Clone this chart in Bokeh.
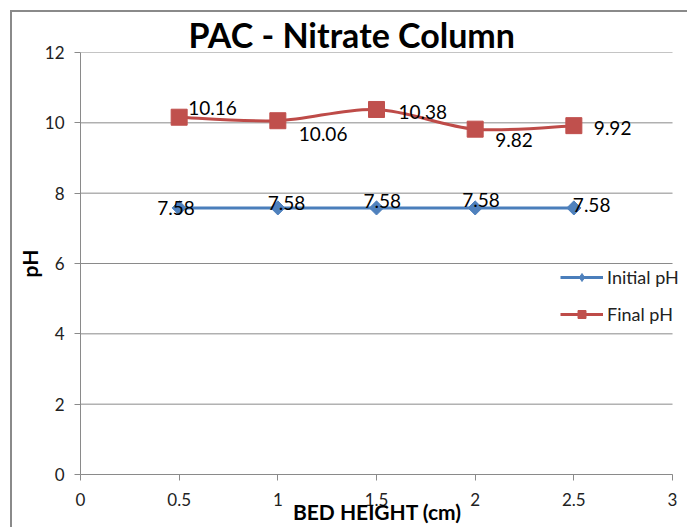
from bokeh.plotting import figure
from bokeh.models import (ColumnDataSource, Legend, LegendItem, FixedTicker,
                          Range1d)
from bokeh.core.properties import value
from bokeh.embed import file_html
from bokeh.resources import INLINE

# Data
bed_height = [0.5, 1.0, 1.5, 2.0, 2.5]
initial_ph = [7.58, 7.58, 7.58, 7.58, 7.58]
final_ph = [10.16, 10.06, 10.38, 9.82, 9.92]
x_ticks = [0, 0.5, 1, 1.5, 2, 2.5, 3]
y_ticks = [0, 2, 4, 6, 8, 10, 12]

# Label placement (pixel offsets from each point)
initial_dx = [-22, -10, -13, -13, -1]
initial_dy = [0, -5, -7, -8, -3]
final_dx = [9, 21, 22, 20, 20]
final_dy = [-9, 13, 3, 11, 2]

BLUE = "#4A7EBB"
BLUE_M = "#4F81BD"
RED = "#BE4B48"
RED_M = "#C0504D"
GRID = "#8a8a8a"
FONT = "Lato"
NAN = float("nan")

X_MIN, X_MAX = 0, 3
# the frame runs on past the last tick so the legend has room at the right
X_VIEW_END = 3.086

p = figure(width=677, height=517, output_backend="svg", toolbar_location=None,
           x_range=Range1d(X_MIN, X_VIEW_END), y_range=Range1d(0, 12),
           min_border_left=68, min_border_right=0, min_border_top=40,
           min_border_bottom=55)
p.margin = (10, 0, 0, 10)
p.styles = {"border-top": f"2px solid {GRID}", "border-left": f"2px solid {GRID}"}
p.outline_line_color = None
p.background_fill_color = "white"
p.border_fill_color = "white"

# Title
p.title.text = "PAC - Nitrate Column"
p.title.text_font = FONT
p.title.text_font_size = "34px"
p.title.text_font_style = "bold"
p.title.text_color = "black"
p.title.align = "left"
p.title.offset = 108
p.title.standoff = -5

# Axes
for ax in (p.xaxis[0], p.yaxis[0]):
    ax.axis_line_color = GRID
    ax.axis_line_width = 1
    ax.major_tick_line_color = GRID
    ax.major_tick_in = 0
    ax.major_tick_out = 6
    ax.minor_tick_line_color = None
    ax.major_label_text_font = FONT
    ax.major_label_text_font_size = "17px"
    ax.major_label_text_color = "#222222"
    ax.axis_label_text_font = FONT
    ax.axis_label_text_font_style = "bold"
    ax.axis_label_text_font_size = "21px"
    ax.axis_label_text_color = "black"

p.xaxis.bounds = (X_MIN, X_MAX)
p.xaxis.ticker = FixedTicker(ticks=x_ticks)
p.yaxis.ticker = FixedTicker(ticks=y_ticks)
p.xaxis.major_label_overrides = {t: f"{t:g}" for t in x_ticks}
# trailing no-break spaces keep the title centred under the 0-3 span
p.xaxis.axis_label = "BED HEIGHT (cm)\u00a0\u00a0\u00a0"
p.yaxis.axis_label = "pH"
p.xaxis.major_label_standoff = 12
p.xaxis.axis_label_standoff = -10
p.yaxis.major_label_standoff = 10
p.yaxis.axis_label_standoff = 0

# Horizontal gridlines stop at the last x tick
p.xgrid.grid_line_color = None
p.ygrid.grid_line_color = None
p.segment(x0=[X_MIN] * len(y_ticks), x1=[X_MAX] * len(y_ticks),
          y0=y_ticks, y1=y_ticks, line_color=GRID, line_width=1)

# Initial pH: straight line with diamond markers
init_src = ColumnDataSource(dict(x=bed_height, y=initial_ph,
                                 label=[f"{v:.2f}" for v in initial_ph],
                                 dx=initial_dx, dy=initial_dy))
init_line = p.line("x", "y", source=init_src, line_color=BLUE, line_width=3)
p.scatter("x", "y", source=init_src, marker="square", angle=0.785398,
          size=10, fill_color=BLUE_M, line_color=BLUE_M)
init_key = p.scatter(x=[NAN], y=[NAN], marker="diamond", size=14,
                     fill_color=BLUE_M, line_color=BLUE_M)

# Final pH: smoothed curve (Catmull-Rom segments as cubic Beziers)
n = len(bed_height)
bz = dict(x0=[], y0=[], x1=[], y1=[], cx0=[], cy0=[], cx1=[], cy1=[])
for i in range(n - 1):
    a = max(i - 1, 0)
    b = min(i + 2, n - 1)
    bz["x0"].append(bed_height[i]); bz["y0"].append(final_ph[i])
    bz["x1"].append(bed_height[i + 1]); bz["y1"].append(final_ph[i + 1])
    bz["cx0"].append(bed_height[i] + (bed_height[i + 1] - bed_height[a]) / 6)
    bz["cy0"].append(final_ph[i] + (final_ph[i + 1] - final_ph[a]) / 6)
    bz["cx1"].append(bed_height[i + 1] - (bed_height[b] - bed_height[i]) / 6)
    bz["cy1"].append(final_ph[i + 1] - (final_ph[b] - final_ph[i]) / 6)
p.bezier(x0="x0", y0="y0", x1="x1", y1="y1", cx0="cx0", cy0="cy0",
         cx1="cx1", cy1="cy1", source=ColumnDataSource(bz),
         line_color=RED, line_width=3)
final_src = ColumnDataSource(dict(x=bed_height, y=final_ph,
                                  label=[f"{v:.2f}" for v in final_ph],
                                  dx=final_dx, dy=final_dy))
final_mark = p.scatter("x", "y", source=final_src, marker="square", size=16,
                       fill_color=RED_M, line_color=RED_M)
final_key = p.line(x=[NAN, NAN], y=[NAN, NAN], line_color=RED, line_width=3)

# Value labels
for src in (init_src, final_src):
    p.text("x", "y", text="label", source=src, x_offset="dx", y_offset="dy",
           text_font=value(FONT), text_font_size="19px", text_color="black",
           text_align="left", text_baseline="middle")

legend = Legend(items=[LegendItem(label="Initial pH", renderers=[init_line, init_key]),
                       LegendItem(label="Final pH", renderers=[final_key, final_mark])],
                location=(480, 149))
legend.background_fill_alpha = 0
legend.border_line_color = None
legend.padding = 0
legend.margin = 0
legend.spacing = 15
legend.glyph_width = 43
legend.glyph_height = 20
legend.label_standoff = 4
legend.label_text_font = FONT
legend.label_text_font_size = "18px"
legend.label_text_color = "#222222"
p.add_layout(legend, "center")

open("out.html", "w").write(file_html(p, INLINE))
